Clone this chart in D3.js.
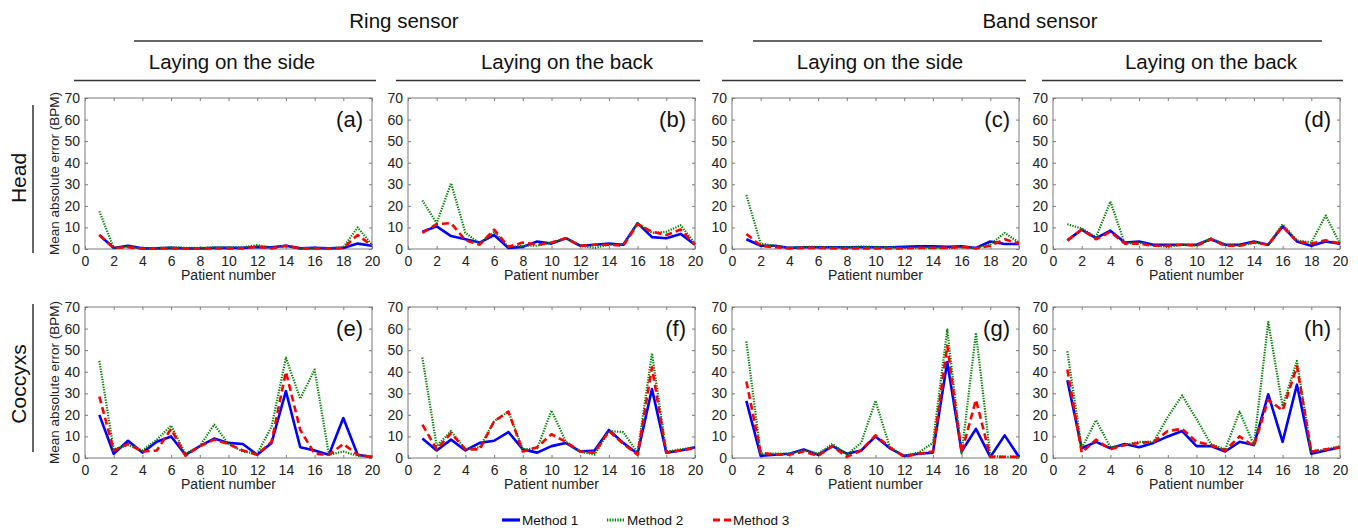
<!DOCTYPE html>
<html><head><meta charset="utf-8">
<script src="https://cdn.jsdelivr.net/npm/d3@7"></script>
<style>
html,body{margin:0;padding:0;background:#fff;}
svg{display:block;font-family:"Liberation Sans",Arial,sans-serif;}
</style></head>
<body><svg id="chart" width="1358" height="528"></svg>
<script>
const patients = [1,2,3,4,5,6,7,8,9,10,11,12,13,14,15,16,17,18,19,20];
const xTicks = [0,2,4,6,8,10,12,14,16,18,20];
const yTicks = [0,10,20,30,40,50,60,70];
const methodNames = ["Method 1","Method 2","Method 3"];
const panelLetters = ["(a)","(b)","(c)","(d)","(e)","(f)","(g)","(h)"];
const sensorTitles = ["Ring sensor","Band sensor"];
const postureTitles = ["Laying on the side","Laying on the back","Laying on the side","Laying on the back"];
const locationTitles = ["Head","Coccyxs"];
const xLabel = "Patient number";
const yLabel = "Mean absolute error (BPM)";

// (a) Ring, side, head
const pA_m1 = [6.5,0.5,1.5,0.3,0.3,0.5,0.3,0.2,0.5,0.5,0.5,1,0.8,1.5,0.3,0.5,0.3,0.5,2.5,1.5];
const pA_m2 = [17.5,0.5,1,0.3,0.5,0.8,0.5,0.5,0.8,0.8,0.8,1.8,0.5,1.5,0.3,0.5,0.3,0.8,10,2];
const pA_m3 = [6.5,0.5,0.8,0.2,0.3,0.3,0.3,0.1,0.3,0.3,0.3,1,0.3,1.5,0.3,0.3,0.2,0.5,6.5,1.5];
// (b) Ring, back, head
const pB_m1 = [8,10.5,6,4.5,3,6.5,0.5,1,3.5,2.5,5,1.5,2,2.5,2,12,5.5,5,7,2];
const pB_m2 = [22.5,12,30.5,7.5,2.5,8,1,1.5,1.5,3,5,1.5,0.5,2,2,12,7.5,8,11,2.5];
const pB_m3 = [7.5,11.5,12,4,2,9,1,3,2,3,5,1.5,2,2,1.5,11.5,8,6.5,9,2];
// (c) Band, side, head
const pC_m1 = [4.5,1.5,1.5,0.5,0.8,0.8,0.8,0.8,0.8,0.8,0.8,1,1.2,1.3,1,1.3,0.5,3.5,2.3,2.3];
const pC_m2 = [25,2.5,1.5,0.5,1,1,0.8,0.8,1.2,1,0.8,0.5,0.5,0.5,0.5,0.8,0.5,2,7.5,3];
const pC_m3 = [7,1.5,0.8,0.3,0.5,0.5,0.3,0.2,0.3,0.3,0.3,0.3,0.5,0.5,0.5,1,0.3,1.5,4.5,2.5];
// (d) Band, back, head
const pD_m1 = [4,9,5,8.5,3,3.5,2,2,2,2,4.5,2,2,3.5,2,10.5,3.5,1.5,3.5,2.5];
const pD_m2 = [11.5,9.5,5.5,22,2.5,3,1.5,1,2,1.5,5,2,1.5,3,2,11.5,4,3,15.5,2.5];
const pD_m3 = [4,9,4.5,8,2.5,2.5,1.5,1.5,2,1.5,4.5,1.5,1.5,3,2,10.5,3.5,2.5,4,2.5];
// (e) Ring, side, coccyx
const pE_m1 = [20,2,8,2.5,7.5,10,1.5,5.5,9,7,6.5,1.5,7,31,5,3.5,1.5,18.5,1.5,0.5];
const pE_m2 = [45,4,6,3.5,8.5,15,2,5.5,15.5,6.5,3,2,14.5,46.5,27.5,41,1.5,3,1,0.5];
const pE_m3 = [28.5,3.5,6.5,3,3.5,13.5,1,5.5,8.5,6.5,3.5,1.5,7.5,40,13,2,1.5,6.5,1.5,0.5];
// (f) Ring, back, coccyx
const pF_m1 = [9,3.5,8.5,3.5,7,8,12,4,2.5,5.5,7,3,3.5,13,7,2,32,2.5,3.5,5];
const pF_m2 = [46.5,5.5,12.5,4,5,17,21.5,4,4.5,22,7.5,3,1.5,12.5,12,2.5,48.5,3,4,5];
const pF_m3 = [15.5,4,11.5,4,4,17,21.5,3,5,11,7.5,3,2.5,12.5,6.5,1.5,42,2.5,3.5,4.5];
// (g) Band, side, coccyx
const pG_m1 = [26.5,1,1.5,2,4,1.5,5.5,2,3.5,10,4.5,1,2,2.5,44.5,3,13.5,0.5,10.5,0.5];
const pG_m2 = [54,2,2,2,3.5,2,6.5,1.5,7,26.5,5,1,2.5,7,59.5,2,58,1,0.5,0.5];
const pG_m3 = [35.5,2.5,1.5,1.5,3,1,5.5,0.5,3.5,10.5,5,0.5,2,3,52,2.5,27,0.5,0.5,0.5];
// (h) Band, back, coccyx
const pH_m1 = [36,4.5,7.5,4.5,6.5,5,7,10,12.5,5.5,5.5,3,7.5,6,29.5,7.5,34,2,3.5,5];
const pH_m2 = [49.5,4.5,17.5,5,6,7.5,7.5,19,29,18,6.5,4,21.5,6,63,24,45,3,4,5.5];
const pH_m3 = [41,2.5,8.5,4,6,7,7.5,12.5,13.5,7.5,6,3.5,10,5.5,27,22,42.5,3,4,5];

const panelSeries = [
  [pA_m1,pA_m2,pA_m3],[pB_m1,pB_m2,pB_m3],[pC_m1,pC_m2,pC_m3],[pD_m1,pD_m2,pD_m3],
  [pE_m1,pE_m2,pE_m3],[pF_m1,pF_m2,pF_m3],[pG_m1,pG_m2,pG_m3],[pH_m1,pH_m2,pH_m3]
];

const svg = d3.select("#chart");
const colLeft = [85, 408, 732, 1053];
const panelW = 287;
const rowTop = [98, 307];
const panelH = 151;
const frameColor = "#7a7a7a";
const textColor = "#222";
const styles = [
  {color:"#0000ff", width:2.6, dash:null},
  {color:"#008000", width:2.2, dash:"1.3,1.3"},
  {color:"#ff0000", width:2.6, dash:"7,4"}
];

panelSeries.forEach((series, i) => {
  const r = Math.floor(i/4), c = i % 4;
  const x0 = colLeft[c], y0 = rowTop[r];
  const x = d3.scaleLinear().domain([0,20]).range([x0, x0+panelW]);
  const y = d3.scaleLinear().domain([0,70]).range([y0+panelH, y0]);
  const g = svg.append("g");

  g.append("rect").attr("x", x0).attr("y", y0).attr("width", panelW).attr("height", panelH)
    .attr("fill","none").attr("stroke", frameColor).attr("stroke-width",1);

  g.append("g").attr("transform", `translate(0,${y0+panelH})`)
    .call(d3.axisBottom(x).tickValues(xTicks).tickSize(-3).tickPadding(7).tickFormat(d3.format("d")));
  g.append("g").attr("transform", `translate(${x0},0)`)
    .call(d3.axisLeft(y).tickValues(yTicks).tickSize(-3).tickPadding(5).tickFormat(d3.format("d")));
  g.append("g").attr("transform", `translate(0,${y0})`)
    .call(d3.axisTop(x).tickValues(xTicks).tickSize(-3).tickFormat(""));
  g.append("g").attr("transform", `translate(${x0+panelW},0)`)
    .call(d3.axisRight(y).tickValues(yTicks).tickSize(-3).tickFormat(""));
  g.selectAll(".domain").remove();
  g.selectAll(".tick line").attr("stroke", frameColor);
  g.selectAll(".tick text").attr("fill", textColor).style("font-size","14px")
    .style("font-family","'Liberation Sans',Arial,sans-serif");

  g.append("text").attr("x", x0+panelW/2).attr("y", y0+panelH+31)
    .attr("text-anchor","middle").attr("fill", textColor).style("font-size","14px").text(xLabel);

  if (c === 0) {
    g.append("text").attr("transform", `translate(59,${y0+panelH/2}) rotate(-90)`)
      .attr("text-anchor","middle").attr("fill", textColor).style("font-size","13.5px").text(yLabel);
  }

  const line = d3.line().x((d,k) => x(patients[k])).y(d => y(d));
  series.forEach((vals, m) => {
    const st = styles[m];
    g.append("path").datum(vals).attr("d", line).attr("fill","none")
      .attr("stroke", st.color).attr("stroke-width", st.width)
      .attr("stroke-linejoin","round")
      .attr("stroke-dasharray", st.dash);
  });

  g.append("text").attr("x", x0+panelW-9).attr("y", y0+29)
    .attr("text-anchor","end").attr("fill","#111").style("font-size","22px").text(panelLetters[i]);
});

const hdr = svg.append("g").attr("fill","#111").style("font-size","20.5px");
const sensorCenters = [404, 1040];
const sensorLines = [[134,703],[753,1322]];
sensorTitles.forEach((t,k) => {
  hdr.append("text").attr("x", sensorCenters[k]).attr("y", 28).attr("text-anchor","middle").text(t);
  svg.append("line").attr("x1", sensorLines[k][0]).attr("x2", sensorLines[k][1])
    .attr("y1", 41).attr("y2", 41).attr("stroke","#333").attr("stroke-width",1.5);
});
const postureCenters = [232, 567, 880, 1211];
const postureLines = [[74,376],[396,700],[722,1026],[1042,1343]];
postureTitles.forEach((t,k) => {
  hdr.append("text").attr("x", postureCenters[k]).attr("y", 69).attr("text-anchor","middle").text(t);
  svg.append("line").attr("x1", postureLines[k][0]).attr("x2", postureLines[k][1])
    .attr("y1", 80.5).attr("y2", 80.5).attr("stroke","#333").attr("stroke-width",1.5);
});

const rowCenters = [178, 384];
const rowLines = [[105,253],[304,452]];
locationTitles.forEach((t,k) => {
  svg.append("text").attr("transform", `translate(26,${rowCenters[k]}) rotate(-90)`)
    .attr("text-anchor","middle").attr("fill","#111").style("font-size","21px").text(t);
  svg.append("line").attr("x1", 33).attr("x2", 33).attr("y1", rowLines[k][0]).attr("y2", rowLines[k][1])
    .attr("stroke","#333").attr("stroke-width",1.5);
});

const legX = [502, 607, 713];
const leg = svg.append("g");
methodNames.forEach((n,m) => {
  const st = styles[m];
  leg.append("line").attr("x1", legX[m]).attr("x2", legX[m]+18).attr("y1", 520).attr("y2", 520)
    .attr("stroke", st.color).attr("stroke-width", st.width+0.6).attr("stroke-dasharray", st.dash);
  leg.append("text").attr("x", legX[m]+20).attr("y", 525).attr("fill","#111")
    .style("font-size","13.5px").text(n);
});
</script>
</body></html>
